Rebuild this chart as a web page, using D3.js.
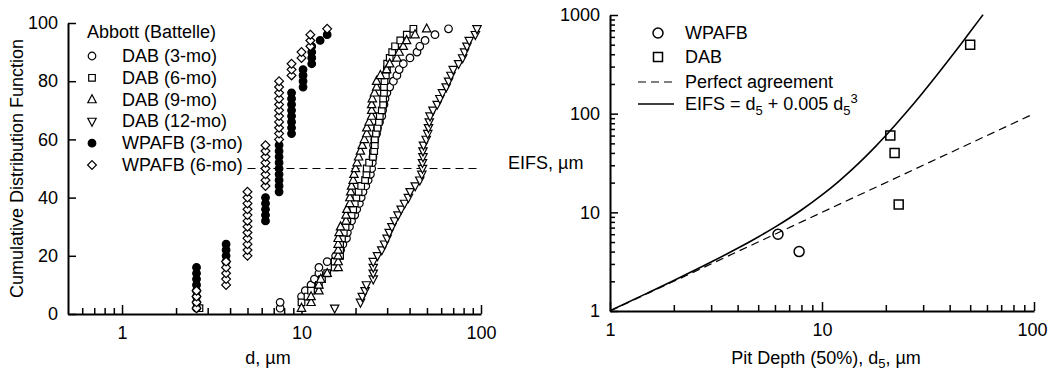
<!DOCTYPE html>
<html>
<head>
<meta charset="utf-8">
<script src="https://cdn.jsdelivr.net/npm/d3@7"></script>
<style>
  body { margin: 0; background: #fff; }
  text { font-family: "Liberation Sans", Arial, sans-serif; fill: #000; }
</style>
</head>
<body>
<div id="chart"></div>
<script>
// ---- left panel: cumulative distributions, [d (um), percent] ----
const dab3mo = [[7.6,2],[7.6,4],[10.0,6],[10.5,8],[11.3,10],[11.8,12],[12.5,14],[12.5,16],[13.9,18],[15.5,20],
  [16.5,22],[17.0,24],[17.8,26],[18.0,28],[18.5,30],[19.0,32],[19.8,34],[20.3,36],[21.0,38],[21.5,40],
  [22.0,42],[22.8,44],[23.5,46],[24.2,48],[24.6,50],[24.8,52],[25.0,54],[25.1,56],[25.2,58],[25.6,60],
  [26.2,62],[26.5,64],[27.2,66],[28.0,68],[28.3,70],[28.8,72],[29.2,74],[29.9,76],[31.0,78],[32.5,80],
  [34.0,82],[35.0,84],[36.9,86],[40.2,88],[44.0,90],[45.6,92],[48.8,94],[55.4,96],[65.9,98]];
const dab6mo = [[2.7,2],[10.0,4],[10.8,6],[11.3,8],[12.5,10],[13.0,12],[13.9,14],[15.3,16],[15.3,18],[16.4,20],
  [16.4,22],[16.4,24],[16.8,26],[17.2,28],[17.6,30],[18.0,32],[19.0,34],[19.4,36],[19.8,38],[20.2,40],
  [20.8,42],[21.5,44],[22.6,46],[23.0,48],[23.1,50],[23.8,52],[25.0,54],[25.4,56],[25.6,58],[25.6,60],
  [26.0,62],[26.5,64],[27.0,66],[27.3,68],[28.0,70],[28.5,72],[28.5,74],[28.8,76],[28.8,78],[29.0,80],
  [29.5,82],[29.9,84],[30.0,86],[31.0,88],[32.0,90],[33.2,92],[35.5,94],[38.6,96],[42.0,98]];
const dab9mo = [[10.0,2],[11.3,4],[11.3,6],[12.5,8],[12.5,10],[12.8,12],[13.9,14],[16.0,16],[16.0,18],[16.0,20],
  [16.0,22],[16.0,24],[16.0,26],[16.2,28],[16.5,30],[17.7,32],[17.7,34],[17.9,36],[18.6,38],[18.6,40],
  [18.8,42],[19.0,44],[19.4,46],[19.6,48],[20.0,50],[20.4,52],[20.8,54],[21.3,56],[21.8,58],[22.4,60],
  [23.1,62],[23.1,64],[23.8,66],[24.6,68],[24.6,70],[24.6,72],[24.8,74],[25.5,76],[26.2,78],[26.2,80],
  [27.5,82],[29.8,84],[31.0,86],[34.0,88],[35.0,90],[36.9,92],[38.5,94],[42.9,96],[49.8,98]];
const dab12mo = [[15.3,2],[21.3,4],[21.8,6],[22.6,8],[23.0,10],[25.1,12],[25.1,14],[25.1,16],[25.1,18],[26.5,20],
  [28.0,22],[29.0,24],[30.0,26],[30.8,28],[31.9,30],[33.0,32],[34.5,34],[35.9,36],[37.5,38],[39.4,40],
  [40.3,42],[43.0,44],[45.6,46],[46.8,48],[47.2,50],[47.2,52],[47.5,54],[47.5,56],[47.8,58],[49.5,60],
  [50.5,62],[51.0,64],[51.5,66],[52.0,68],[54.0,70],[57.0,72],[59.0,74],[61.0,76],[64.0,78],[66.0,80],
  [68.0,82],[70.0,84],[75.0,86],[79.0,88],[81.0,90],[83.5,92],[86.0,94],[93.0,96],[95.0,98]];
const wpafb3mo = [[2.6,2],[2.6,4],[2.6,6],[2.6,8],[2.6,10],[2.6,12],[2.6,14],[2.6,16],
  [3.8,18],[3.8,20],[3.8,22],[3.8,24],
  [6.3,32],[6.3,34],[6.3,36],[6.3,38],[6.3,40],
  [7.5,42],[7.5,44],[7.5,46],[7.5,48],[7.5,50],[7.5,52],[7.5,54],[7.5,56],[7.5,58],
  [8.8,62],[8.8,64],[8.8,66],[8.8,68],[8.8,70],[8.8,72],[8.8,74],[8.8,76],
  [10.2,78],[10.2,80],[10.2,82],[10.2,84],
  [11.4,86],[11.4,88],[11.4,90],[11.4,92],[12.7,94],[13.9,96]];
const wpafb6mo = [[2.6,2],[2.6,4],[2.6,6],[2.6,8],
  [3.8,10],[3.8,12],[3.8,14],[3.8,16],[3.8,18],
  [5.0,20],[5.0,22],[5.0,24],[5.0,26],[5.0,28],[5.0,30],[5.0,32],[5.0,34],[5.0,36],[5.0,38],[5.0,40],[5.0,42],
  [6.3,44],[6.3,46],[6.3,48],[6.3,50],[6.3,52],[6.3,54],[6.3,56],[6.3,58],
  [7.5,60],[7.5,62],[7.5,64],[7.5,66],[7.5,68],[7.5,70],[7.5,72],[7.5,74],[7.5,76],[7.5,78],[7.5,80],
  [8.8,82],[8.8,84],[8.8,86],[10.0,88],[10.0,90],[11.2,92],[11.2,94],[11.2,96],[13.9,98]];
const medianLine = [[5.0,50],[96,50]];

const leftSeries = [
  { name: 'DAB (3-mo)', data: dab3mo, sym: 'circle', fill: '#fff' },
  { name: 'DAB (6-mo)', data: dab6mo, sym: 'square', fill: '#fff' },
  { name: 'DAB (9-mo)', data: dab9mo, sym: 'triUp', fill: '#fff' },
  { name: 'DAB (12-mo)', data: dab12mo, sym: 'triDown', fill: '#fff' },
  { name: 'WPAFB (3-mo)', data: wpafb3mo, sym: 'circle', fill: '#000' },
  { name: 'WPAFB (6-mo)', data: wpafb6mo, sym: 'diamond', fill: '#fff' }
];
const leftYTicks = [0, 20, 40, 60, 80, 100];
const leftXMajor = [1, 10, 100];
const leftXMinor = [0.6, 0.7, 0.8, 0.9, 2, 3, 4, 5, 6, 7, 8, 9, 20, 30, 40, 50, 60, 70, 80, 90];

// ---- right panel: EIFS vs pit depth ----
const wpafbPts = [[6.2, 6.0], [7.8, 4.0]];
const dabPts = [[21, 60], [22, 40], [23, 12], [50, 500]];
const perfectLine = [[1, 1], [100, 100]];
const modelDepths = [1, 1.5, 2, 3, 4, 5, 6, 7, 8, 10, 12, 14, 16, 18, 20, 25, 30, 35, 40, 45, 50, 55, 57.5];
const rightXMajor = [1, 10, 100];
const rightXMinor = [2, 3, 4, 5, 6, 7, 8, 9, 20, 30, 40, 50, 60, 70, 80, 90];
const rightYMajor = [1, 10, 100, 1000];
const rightYMinor = [2, 3, 4, 5, 6, 7, 8, 9, 20, 30, 40, 50, 60, 70, 80, 90, 200, 300, 400, 500, 600, 700, 800, 900];

const W = 1048, H = 372;
const svg = d3.select('#chart').append('svg').attr('width', W).attr('height', H);

function symPath(type, s) {
  switch (type) {
    case 'circle': return `M${s},0A${s},${s} 0 1,1 ${-s},0A${s},${s} 0 1,1 ${s},0Z`;
    case 'square': return `M${-s},${-s}H${s}V${s}H${-s}Z`;
    case 'triUp': return `M0,${-s * 1.15}L${s},${s * 0.75}L${-s},${s * 0.75}Z`;
    case 'triDown': return `M0,${s * 1.15}L${s},${-s * 0.75}L${-s},${-s * 0.75}Z`;
    case 'diamond': return `M0,${-s}L${s},0L0,${s}L${-s},0Z`;
  }
}
const SYM_SIZE = { circle: 3.8, square: 3.3, triUp: 4.2, triDown: 4.2, diamond: 4.4 };

function styleAxis(g, w) {
  g.select('.domain').attr('stroke-width', w);
  g.selectAll('.tick line').attr('stroke-width', 1.5);
  g.selectAll('.tick text').attr('font-size', 18).attr('font-family', '"Liberation Sans", Arial, sans-serif');
}

// ===== Left panel =====
const xL = d3.scaleLog().domain([0.5, 100]).range([68, 481]);
const yL = d3.scaleLinear().domain([0, 100]).range([314, 23]);
const gL = svg.append('g');

// minor ticks first
gL.append('g').attr('transform', `translate(0,${yL(0)})`)
  .call(d3.axisBottom(xL).tickValues(leftXMinor).tickFormat('').tickSizeInner(-6).tickSizeOuter(0))
  .call(g => { g.select('.domain').remove(); g.selectAll('.tick line').attr('stroke-width', 1.5); });
gL.append('g').attr('transform', `translate(0,${yL(0)})`)
  .call(d3.axisBottom(xL).tickValues(leftXMajor).tickFormat(d3.format('')).tickSizeInner(-9).tickSizeOuter(0).tickPadding(12))
  .call(g => styleAxis(g, 2));
gL.append('g').attr('transform', `translate(${xL(0.5)},0)`)
  .call(d3.axisLeft(yL).tickValues(leftYTicks).tickSizeInner(-8).tickSizeOuter(0).tickPadding(10))
  .call(g => styleAxis(g, 2));

gL.append('text')
  .attr('transform', `translate(17,${(yL(0) + yL(100)) / 2}) rotate(-90)`)
  .attr('text-anchor', 'middle').attr('dominant-baseline', 'central')
  .attr('font-size', 18).text('Cumulative Distribution Function');
gL.append('text').attr('x', 268).attr('y', 364).attr('text-anchor', 'middle')
  .attr('font-size', 18).text('d, \u00b5m');

// median dashed line
gL.append('path')
  .attr('d', d3.line().x(d => xL(d[0])).y(d => yL(d[1]))(medianLine))
  .attr('fill', 'none').attr('stroke', '#000').attr('stroke-width', 1).attr('stroke-dasharray', '8,5');

leftSeries.forEach(s => {
  gL.append('g').selectAll('path').data(s.data).join('path')
    .attr('d', symPath(s.sym, SYM_SIZE[s.sym]))
    .attr('transform', d => `translate(${xL(d[0])},${yL(d[1])})`)
    .attr('fill', s.fill).attr('stroke', '#000').attr('stroke-width', 1.2);
});

// left legend
const legL = gL.append('g');
legL.append('text').attr('x', 87).attr('y', 38).attr('font-size', 18).text('Abbott (Battelle)');
leftSeries.forEach((s, i) => {
  const cy = 56 + i * 21.8;
  legL.append('path').attr('d', symPath(s.sym, SYM_SIZE[s.sym]))
    .attr('transform', `translate(92,${cy})`)
    .attr('fill', s.fill).attr('stroke', '#000').attr('stroke-width', 1.2);
  legL.append('text').attr('x', 122).attr('y', cy).attr('dominant-baseline', 'central')
    .attr('font-size', 18).text(s.name);
});

// ===== Right panel =====
const xR = d3.scaleLog().domain([1, 100]).range([610, 1034]);
const yR = d3.scaleLog().domain([1, 1000]).range([311, 15]);
const gR = svg.append('g');

gR.append('g').attr('transform', `translate(0,${yR(1)})`)
  .call(d3.axisBottom(xR).tickValues(rightXMinor).tickFormat('').tickSizeInner(-6).tickSizeOuter(0))
  .call(g => { g.select('.domain').remove(); g.selectAll('.tick line').attr('stroke-width', 1.5); });
gR.append('g').attr('transform', `translate(0,${yR(1)})`)
  .call(d3.axisBottom(xR).tickValues(rightXMajor).tickFormat(d3.format('')).tickSizeInner(-9).tickSizeOuter(0).tickPadding(12))
  .call(g => styleAxis(g, 2))
  .call(g => g.selectAll('.tick text').filter(d => d === 100).attr('text-anchor', 'end').attr('dx', 13));
gR.append('g').attr('transform', `translate(${xR(1)},0)`)
  .call(d3.axisLeft(yR).tickValues(rightYMinor).tickFormat('').tickSizeInner(-5).tickSizeOuter(0))
  .call(g => { g.select('.domain').remove(); g.selectAll('.tick line').attr('stroke-width', 1.5); });
gR.append('g').attr('transform', `translate(${xR(1)},0)`)
  .call(d3.axisLeft(yR).tickValues(rightYMajor).tickFormat(d3.format('')).tickSizeInner(-8).tickSizeOuter(0).tickPadding(10))
  .call(g => styleAxis(g, 2));

gR.append('text').attr('x', 508).attr('y', 169).attr('font-size', 18).text('EIFS, \u00b5m');
const xlab = gR.append('text').attr('x', 826).attr('y', 364).attr('text-anchor', 'middle').attr('font-size', 18);
xlab.append('tspan').text('Pit Depth (50%), d');
xlab.append('tspan').attr('font-size', 13).attr('dy', 4).text('5');
xlab.append('tspan').attr('dy', -4).text(', \u00b5m');

const lineR = d3.line().x(d => xR(d[0])).y(d => yR(d[1]));
gR.append('path').attr('d', lineR(perfectLine))
  .attr('fill', 'none').attr('stroke', '#000').attr('stroke-width', 1.2).attr('stroke-dasharray', '8,5');
// model curve: EIFS = d5 + 0.005 d5^3 (equation from the legend)
gR.append('path').attr('d', lineR.curve(d3.curveMonotoneX)(modelDepths.map(d => [d, d + 0.005 * d * d * d])))
  .attr('fill', 'none').attr('stroke', '#000').attr('stroke-width', 1.6);

gR.append('g').selectAll('path').data(wpafbPts).join('path')
  .attr('d', symPath('circle', 5))
  .attr('transform', d => `translate(${xR(d[0])},${yR(d[1])})`)
  .attr('fill', 'none').attr('stroke', '#000').attr('stroke-width', 1.5);
gR.append('g').selectAll('path').data(dabPts).join('path')
  .attr('d', symPath('square', 4.5))
  .attr('transform', d => `translate(${xR(d[0])},${yR(d[1])})`)
  .attr('fill', 'none').attr('stroke', '#000').attr('stroke-width', 1.5);

// right legend
const legR = gR.append('g');
const rowsR = [33, 57, 82, 104];
legR.append('path').attr('d', symPath('circle', 5)).attr('transform', `translate(658,${rowsR[0]})`)
  .attr('fill', 'none').attr('stroke', '#000').attr('stroke-width', 1.5);
legR.append('path').attr('d', symPath('square', 4.5)).attr('transform', `translate(658,${rowsR[1]})`)
  .attr('fill', 'none').attr('stroke', '#000').attr('stroke-width', 1.5);
legR.append('line').attr('x1', 638).attr('x2', 674).attr('y1', rowsR[2]).attr('y2', rowsR[2])
  .attr('stroke', '#000').attr('stroke-width', 1.2).attr('stroke-dasharray', '8,5');
legR.append('line').attr('x1', 638).attr('x2', 674).attr('y1', rowsR[3]).attr('y2', rowsR[3])
  .attr('stroke', '#000').attr('stroke-width', 1.6);
['WPAFB', 'DAB', 'Perfect agreement'].forEach((t, i) => {
  legR.append('text').attr('x', 685).attr('y', rowsR[i]).attr('dominant-baseline', 'central')
    .attr('font-size', 18).text(t);
});
const eq = legR.append('text').attr('x', 685).attr('y', rowsR[3] + 6).attr('font-size', 18);
eq.append('tspan').text('EIFS = d');
eq.append('tspan').attr('font-size', 13).attr('dy', 5).text('5');
eq.append('tspan').attr('dy', -5).text(' + 0.005 d');
eq.append('tspan').attr('font-size', 13).attr('dy', 5).text('5');
eq.append('tspan').attr('font-size', 13).attr('dy', -12).text('3');
</script>
</body>
</html>
